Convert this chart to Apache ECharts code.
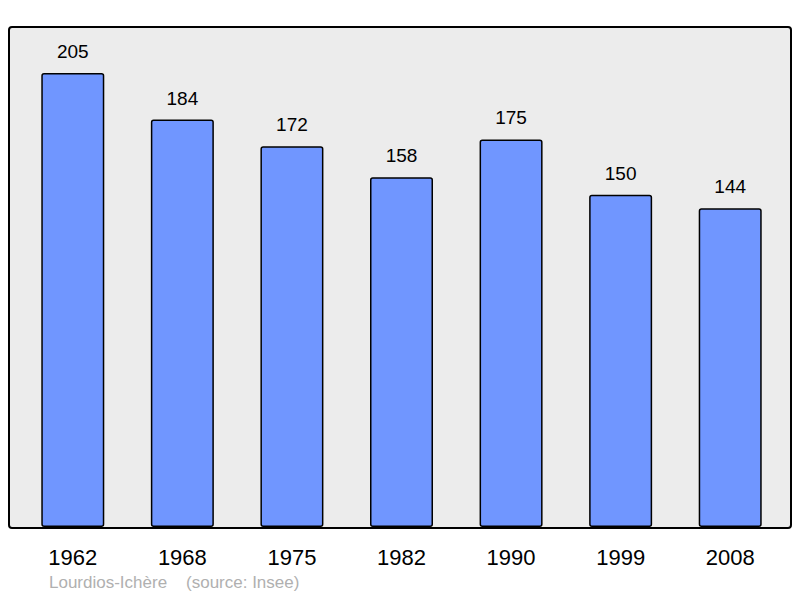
<!DOCTYPE html>
<html><head><meta charset="utf-8">
<script src="https://cdn.jsdelivr.net/npm/echarts@6/dist/echarts.min.js"></script>
<style>html,body{margin:0;padding:0;background:#fff}#c{width:800px;height:598px}</style>
</head><body><div id="c"></div>
<script>
const years = ['1962','1968','1975','1982','1990','1999','2008'];
const population = [205, 184, 172, 158, 175, 150, 144];
const title = 'Lourdios-Ichère    (source: Insee)';

const chart = echarts.init(document.getElementById('c'), null, {renderer:'svg'});
chart.setOption({
  animation:false,
  graphic:[
    {type:'rect', shape:{x:9,y:27,width:782,height:501,r:3}, style:{fill:'#ececec',stroke:'#000',lineWidth:2}, z:-10},
    {type:'text', left:49, top:574, style:{text:title, fill:'#b0b0b0', font:'17px "Liberation Sans", Arial, sans-serif'}}
  ],
  grid:{left:18, width:767, top:27, height:500},
  xAxis:{type:'category', data:years, axisLine:{show:false}, axisTick:{show:false},
    axisLabel:{color:'#000', fontSize:22, fontFamily:'"Liberation Sans", Arial, sans-serif', margin:19}},
  yAxis:{type:'value', min:0, max:225.8, show:false, splitLine:{show:false}},
  series:[{type:'bar', data:population, barWidth:63,
    itemStyle:{color:'#7096ff', borderColor:'#000', borderWidth:1.5, borderRadius:2},
    label:{show:true, position:'top', distance:12, color:'#000', fontSize:19, fontFamily:'"Liberation Sans", Arial, sans-serif'}
  }]
});
</script></body></html>
